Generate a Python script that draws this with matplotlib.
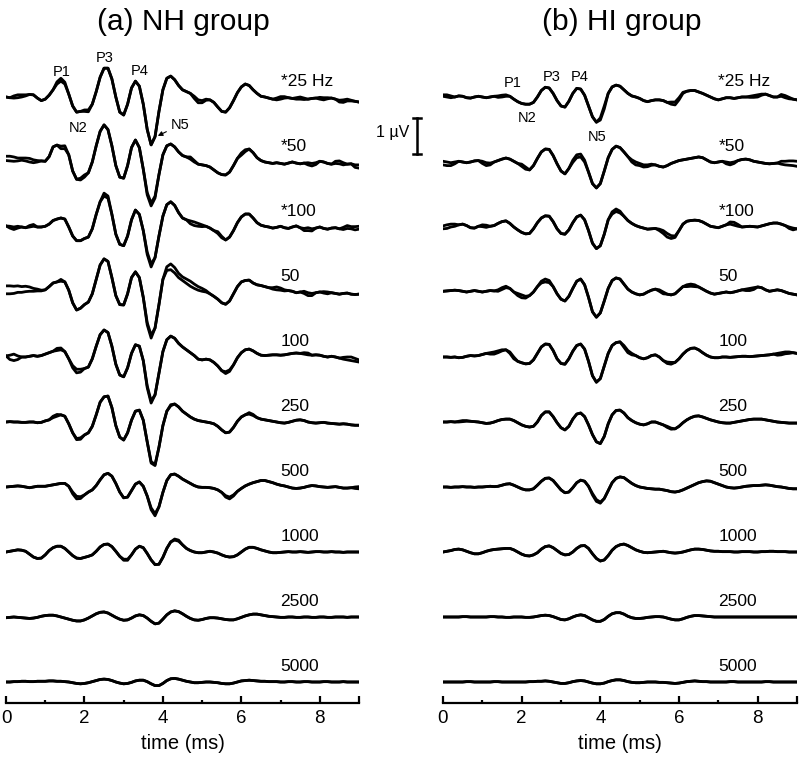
import numpy as np
import matplotlib
matplotlib.use('Agg')
import matplotlib.pyplot as plt

plt.rcParams['font.family'] = ['Liberation Sans', 'DejaVu Sans']

# one sample every 0.1 ms, 0..9 ms
times = np.round(np.arange(91) * 0.1, 1)

rate_labels = ['*25 Hz', '*50', '*100', '50', '100', '250', '500', '1000', '2500', '5000']

# averaged waveforms, in units of 0.01 uV
# ---- (a) NH group ----
nh_s25 = [0, -2, -3, -2, 0, 3, 7, 6, -3, -10,
          -6, 5, 20, 36, 44, 36, 8, -25, -42, -40,
          -36, -36, -20, 15, 55, 80, 80, 50, 0, -42,
          -50, -20, 25, 44, 30, -20, -90, -133, -110, -40,
          20, 52, 58, 48, 32, 20, 15, 10, 2, -8,
          -10, -6, -8, -15, -28, -40, -42, -30, -10, 12,
          28, 36, 32, 20, 10, 2, 0, -3, -6, -8,
          -6, -3, -2, -4, -2, 0, -3, -6, -4, -3,
          -6, -8, -5, -3, -6, -9, -8, -6, -9, -12,
          -14]
nh_s50 = [4, 3, 2, 3, 5, 3, 0, -2, 0, 3,
          2, 15, 42, 47, 44, 45, 20, -25, -48, -50,
          -42, -30, 0, 45, 85, 103, 90, 45, -10, -42,
          -45, -10, 40, 61, 40, -20, -85, -114, -95, -35,
          20, 45, 50, 42, 28, 18, 14, 8, 0, -6,
          -8, -10, -14, -22, -30, -35, -36, -28, -10, 10,
          25, 34, 36, 26, 12, 4, 0, -2, -4, -2,
          -4, -6, -3, 0, -3, -5, -3, -2, -4, -2,
          2, 0, -4, -6, -4, -5, -8, -6, -5, -8,
          -8]
nh_s100 = [3, 2, 0, 2, 0, -2, 0, 2, 0, 0,
           2, 8, 18, 22, 25, 22, 0, -25, -38, -38,
           -32, -28, -5, 35, 70, 86, 80, 35, -20, -48,
           -52, -25, 20, 47, 35, -10, -70, -103, -85, -25,
           30, 62, 70, 60, 40, 25, 20, 17, 14, 10,
           6, 2, -3, -10, -18, -30, -36, -28, -10, 12,
           28, 36, 36, 25, 12, 5, 2, 0, -3, -1,
           2, -2, -4, 0, 3, -2, -4, -2, -5, -3,
           0, -4, -6, -3, -2, -5, -7, -4, -5, -8,
           -6]
nh_50 = [17, 17, 16, 17, 15, 16, 14, 10, 8, 5,
         6, 15, 25, 28, 30, 28, 5, -30, -50, -45,
         -35, -28, -5, 35, 75, 92, 85, 40, -10, -35,
         -36, -5, 40, 56, 40, -15, -85, -120, -100, -35,
         35, 70, 78, 68, 52, 42, 36, 30, 22, 15,
         10, 4, -5, -12, -20, -30, -34, -25, -5, 15,
         28, 32, 33, 25, 20, 18, 15, 12, 8, 6,
         5, 3, 4, 2, -2, 0, 2, -2, -4, -2,
         0, -3, -5, -2, -4, -6, -4, -3, -6, -7,
         -6]
nh_100 = [3, 5, 8, 3, 0, 0, 2, 4, 2, 4,
          8, 12, 16, 18, 20, 15, -5, -30, -44, -42,
          -32, -28, -5, 30, 62, 75, 68, 30, -20, -50,
          -55, -30, 10, 34, 30, -10, -80, -122, -105, -45,
          15, 48, 58, 52, 38, 28, 20, 12, 4, -6,
          -8, -6, -8, -15, -25, -38, -46, -40, -22, -2,
          12, 20, 22, 17, 10, 5, 4, 5, 6, 6,
          5, 6, 8, 10, 11, 10, 8, 6, 5, 6,
          5, 2, 0, 2, 0, -3, -6, -8, -10, -12,
          -14]
nh_250 = [0, 1, 0, 0, -1, -1, 0, 0, -2, -1,
          3, 6, 12, 16, 20, 16, -5, -30, -46, -44,
          -36, -30, -12, 20, 55, 70, 72, 40, -10, -42,
          -50, -30, 5, 30, 33, 5, -55, -110, -118, -70,
          -10, 30, 48, 50, 42, 30, 22, 14, 8, 4,
          2, 0, -2, -5, -12, -22, -30, -28, -15, 2,
          14, 20, 22, 18, 12, 8, 6, 4, 2, 0,
          -2, -3, -1, 2, 5, 6, 4, 0, -2, -3,
          -2, -1, -3, -4, -5, -6, -5, -6, -8, -9,
          -9]
nh_500 = [0, 1, 2, 3, 2, 0, -2, 0, 2, 2,
          2, 4, 6, 8, 10, 10, 2, -14, -26, -27,
          -22, -14, -8, 4, 20, 34, 38, 30, 10, -14,
          -30, -28, -10, 8, 14, 2, -25, -58, -74, -55,
          -15, 18, 34, 36, 30, 22, 16, 10, 4, 0,
          -1, -1, -2, -4, -8, -15, -24, -28, -22, -12,
          -4, 3, 8, 12, 15, 18, 18, 15, 12, 8,
          5, 3, 0, -3, -4, -3, -1, 2, 4, 3,
          1, 0, -1, 0, 1, -1, -3, -3, -2, -4,
          -5]
nh_1000 = [0, 2, 4, 6, 5, 2, -6, -14, -18, -17,
           -8, 4, 12, 16, 16, 10, 0, -10, -17, -18,
           -15, -12, -8, 2, 14, 21, 22, 15, 2, -12,
           -20, -20, -8, 8, 16, 12, -4, -22, -35, -34,
           -15, 10, 28, 33, 30, 20, 10, 4, 0, -2,
           -2, 0, 2, 0, -3, -8, -12, -14, -13, -8,
           0, 8, 13, 13, 10, 6, 3, 0, -2, -2,
           -1, 0, 1, 0, 0, 1, 0, -1, 0, 1,
           1, 0, 0, 1, 0, 0, -1, 0, 0, 0,
           0]
nh_2500 = [-2, -1, 0, -1, -2, -3, -4, -3, -1, 2,
           4, 5, 5, 3, 0, -3, -6, -9, -11, -11,
           -8, -3, 3, 9, 13, 14, 11, 5, -1, -6,
           -9, -8, -3, 3, 6, 4, -3, -12, -19, -17,
           -6, 6, 14, 17, 15, 9, 2, -4, -8, -9,
           -7, -4, -2, -2, -3, -5, -7, -8, -8, -5,
           -1, 3, 6, 8, 8, 6, 4, 2, 1, 0,
           -1, -1, 0, 0, -1, -1, 0, 0, -1, -1,
           0, 0, -1, -1, 0, 0, 0, -1, 0, 0,
           0]
nh_5000 = [0, 0, 1, 1, 2, 2, 1, 1, 2, 2,
           2, 3, 3, 2, 2, 1, 0, -2, -4, -5,
           -4, -2, 1, 4, 7, 8, 7, 4, 0, -3,
           -5, -4, -1, 3, 5, 5, 1, -5, -10, -10,
           -4, 4, 9, 10, 8, 5, 2, 0, -2, -2,
           -1, 0, 0, -1, -2, -4, -5, -5, -3, 0,
           3, 4, 5, 4, 3, 2, 2, 1, 1, 1,
           0, 0, 1, 1, 0, 0, 1, 1, 0, 0,
           0, 1, 1, 0, 0, 0, 1, 0, 0, 0,
           0]

# ---- (b) HI group ----
hi_s25 = [2, 0, -2, 0, 3, 2, -2, -3, 0, 2,
          0, -2, 0, 2, 3, 5, 6, 2, -6, -13,
          -18, -20, -20, -15, 0, 18, 27, 25, 10, -10,
          -25, -28, -12, 10, 24, 22, 5, -25, -55, -70,
          -58, -25, 10, 28, 33, 30, 20, 10, 3, 0,
          -4, -10, -13, -10, -8, -8, -10, -15, -20, -22,
          -8, 10, 16, 18, 18, 14, 10, 5, 0, -5,
          -8, -5, -2, -2, -4, -2, 0, 0, 2, 4,
          6, 8, 8, 4, 0, 0, 2, -2, -5, -6,
          -8]
hi_s50 = [2, 0, -2, 0, 2, 0, -2, 0, 3, 4,
          2, -2, -3, 0, 4, 8, 11, 8, 2, -4,
          -12, -20, -22, -10, 10, 28, 36, 35, 18, -5,
          -25, -33, -18, 5, 20, 22, 5, -28, -60, -72,
          -60, -25, 12, 35, 44, 40, 28, 15, 6, 0,
          -4, -8, -8, -6, -8, -12, -14, -10, -4, 0,
          4, 6, 8, 10, 12, 14, 12, 6, 0, -2,
          0, 2, 0, -2, 0, 4, 7, 8, 6, 2,
          0, -2, -4, -5, -4, -3, -6, -8, -9, -10,
          -12]
hi_s100 = [3, 6, 8, 8, 6, 8, 4, -2, -3, 2,
           6, 5, 2, 4, 10, 15, 17, 10, 0, -8,
           -15, -19, -18, -5, 12, 25, 31, 30, 15, -5,
           -18, -20, -8, 12, 28, 33, 20, -10, -45, -60,
           -52, -20, 20, 42, 50, 44, 30, 18, 10, 4,
           0, -3, -6, -5, -4, -6, -10, -18, -24, -25,
           -10, 8, 16, 18, 19, 18, 14, 8, 2, 0,
           -2, 2, 6, 8, 5, 2, 0, 1, 2, 1,
           0, 3, 6, 9, 11, 11, 8, 4, 0, -3,
           -5]
hi_50 = [2, 3, 4, 5, 4, 2, 0, 2, 4, 2,
         0, 2, 4, 3, 6, 12, 16, 10, 0, -10,
         -16, -17, -10, 0, 15, 30, 36, 32, 15, -5,
         -20, -25, -12, 10, 30, 36, 20, -15, -55, -70,
         -58, -25, 10, 32, 39, 36, 22, 8, 0, -5,
         -8, -6, 0, 5, 8, 6, 0, -6, -8, -5,
         5, 15, 20, 22, 20, 14, 8, 2, -3, -6,
         -4, -2, 0, -2, 0, 3, 6, 8, 10, 12,
         14, 12, 6, 2, 4, 6, 4, 0, -4, -6,
         -8]
hi_100 = [0, 0, -1, 0, -2, -1, 2, 4, 3, 4,
          7, 10, 12, 14, 17, 20, 20, 10, -5, -12,
          -16, -19, -18, -8, 10, 28, 36, 35, 18, -5,
          -18, -20, -5, 16, 32, 36, 22, -12, -52, -70,
          -60, -25, 10, 32, 40, 42, 32, 18, 10, 4,
          -2, -5, -2, 4, 6, 0, -10, -18, -20, -15,
          -5, 8, 18, 24, 25, 20, 12, 5, 0, -2,
          -2, 0, 0, -1, 0, 1, 2, 2, 1, 2,
          3, 4, 5, 6, 8, 10, 12, 14, 14, 12,
          10]
hi_250 = [0, 0, 1, 0, 0, 1, 2, 2, 1, 0,
          -2, -4, -3, 0, 4, 7, 8, 8, 4, -2,
          -8, -12, -14, -12, 0, 18, 28, 28, 15, -2,
          -16, -22, -12, 8, 22, 25, 15, -8, -35, -55,
          -60, -40, -5, 20, 32, 33, 25, 12, 4, -2,
          -6, -8, -5, 0, 0, -4, -8, -12, -17, -19,
          -12, -2, 6, 12, 16, 17, 14, 10, 6, 3,
          0, -2, -3, -3, -1, 1, 3, 5, 7, 8,
          8, 8, 6, 4, 2, 0, -1, -2, -3, -3,
          -3]
hi_500 = [0, 0, -1, 0, 0, 1, 0, 0, -1, 0,
          0, 1, 2, 1, 2, 5, 8, 9, 5, 0,
          -5, -8, -8, -5, 5, 16, 24, 25, 18, 5,
          -8, -16, -14, -2, 12, 19, 16, 2, -18, -35,
          -42, -32, -10, 12, 24, 28, 26, 18, 10, 4,
          0, -2, -4, -5, -6, -6, -8, -10, -13, -14,
          -12, -8, -3, 2, 7, 12, 15, 17, 16, 12,
          8, 4, 0, -2, -3, -2, 0, 2, 3, 4,
          4, 5, 6, 5, 3, 1, 0, -2, -4, -5,
          -5]
hi_1000 = [0, 2, 4, 7, 8, 6, 2, -2, -5, -5,
           -2, 2, 5, 7, 8, 9, 10, 10, 6, 0,
           -6, -10, -11, -8, -2, 8, 15, 17, 12, 4,
           -4, -8, -7, 0, 10, 17, 18, 10, -5, -18,
           -25, -22, -10, 5, 15, 20, 22, 18, 12, 6,
           2, -1, -2, -1, 0, 1, 2, 0, -2, -3,
           -2, 0, 3, 6, 8, 8, 7, 5, 3, 2,
           2, 1, 1, 1, 0, 0, 1, 1, 1, 0,
           0, 1, 1, 2, 2, 1, 1, 1, 0, 0,
           0]
hi_2500 = [0, 0, 0, 0, 0, 1, 1, 0, 0, 0,
           0, 0, 1, 1, 0, 0, -1, -1, 0, 0,
           0, -1, -1, 0, 2, 4, 5, 4, 1, -3,
           -7, -8, -5, 0, 4, 6, 4, -2, -8, -12,
           -12, -7, 2, 9, 12, 12, 8, 2, -2, -4,
           -4, -3, -1, 0, 1, 1, 0, -3, -6, -8,
           -8, -5, -1, 2, 4, 4, 3, 2, 1, 0,
           0, 0, 0, 0, 0, 0, 0, 0, 0, 0,
           0, 0, 0, 0, 0, 0, 0, 0, 0, 0,
           0]
hi_5000 = [0, 0, 0, 0, 0, 0, 1, 1, 0, 0,
           0, 0, 0, 1, 1, 0, 0, 0, 0, 0,
           0, 0, 1, 1, 2, 2, 3, 2, 0, -2,
           -4, -4, -2, 1, 3, 4, 3, 0, -3, -5,
           -5, -3, 1, 4, 6, 6, 4, 1, -1, -2,
           -2, -1, 0, 0, 0, -1, -1, -2, -3, -4,
           -3, -1, 1, 2, 3, 2, 1, 1, 0, 0,
           0, 0, 0, 1, 1, 0, 0, 0, 0, 0,
           0, 0, 1, 1, 0, 0, 0, 0, 0, 0,
           0]

# second replicate: differences from the first (sample index -> 0.01 uV)
nh_dev = [
    {2: 6, 3: 8, 4: 6, 5: 3, 13: 6, 14: 8, 15: 5, 20: -4, 21: -5, 48: -6, 49: -8, 50: -6, 51: -3,
     69: 5, 70: 7, 71: 4, 74: -4, 75: -6, 76: -4, 80: 5, 81: 6, 82: 3, 85: -5, 86: -7, 87: -5, 88: -2},
    {0: 12, 1: 13, 2: 12, 3: 8, 4: 6, 5: 8, 6: 10, 7: 8, 8: 4, 14: -7, 15: -8, 19: 5, 20: 6,
     36: -6, 37: -8, 38: -5, 47: 6, 48: 4, 60: -6, 61: -5, 77: -6, 78: -7, 79: -5, 84: 6, 85: 8,
     86: 6, 89: -7, 90: -9},
    {1: -5, 2: -7, 3: -5, 6: 4, 7: 5, 25: 8, 26: 6, 36: -6, 37: -8, 47: -8, 48: -10, 49: -8,
     50: -5, 54: 5, 55: 4, 76: -6, 77: -8, 78: -6, 86: 6, 87: 8, 88: 6, 89: 9, 90: 8},
    {0: -22, 1: -22, 2: -20, 3: -18, 4: -16, 5: -15, 6: -12, 7: -8, 8: -5, 9: -2, 14: 5,
     36: -6, 37: -8, 41: -10, 42: -16, 43: -15, 44: -12, 45: -10, 46: -12, 47: -14, 48: -12,
     49: -10, 50: -8, 51: -4, 68: 4, 69: 8, 70: 6, 71: 3, 76: -6, 77: -8, 78: -6, 81: 4, 82: 5},
    {1: -12, 2: -18, 3: -10, 13: 6, 14: 5, 17: 6, 18: 10, 19: 8, 36: -5, 37: -6, 56: 5, 57: 4,
     76: 4, 77: 5, 86: 5, 87: 8, 88: 10, 89: 8, 90: 6},
    {12: 4, 13: 5, 18: -3, 19: -4, 37: -4, 38: -3, 42: -3, 62: 4, 63: 3},
    {17: -5, 18: -7, 19: -5, 37: -5, 38: -6, 56: -4, 57: -5, 58: -3, 89: 4, 90: 6},
    {30: -3, 31: -3, 43: 3, 44: 3},
    {},
    {},
]
hi_dev = [
    {0: 4, 1: 6, 2: 5, 14: -4, 15: -5, 16: -4, 40: -6, 41: -8, 58: 6, 59: 8, 60: 6, 61: 3,
     78: -3, 79: -5, 80: -6, 81: -3, 86: 5, 87: 6, 88: 4},
    {0: -10, 1: -10, 2: -8, 3: -5, 10: -6, 11: -8, 12: -5, 20: 6, 21: 6, 33: -6, 34: -8, 35: -8,
     36: -5, 48: -6, 49: -8, 50: -6, 51: -6, 52: -5, 53: -3, 72: -5, 73: -6, 74: -4, 86: 8,
     87: 10, 88: 12, 89: 13, 90: 14},
    {0: -8, 1: -10, 2: -8, 3: -6, 10: -5, 11: -6, 43: -6, 44: -7, 45: -5, 55: -4, 56: -8,
     57: -10, 58: -8, 59: -4, 73: 6, 74: 8, 75: 5, 88: -4, 89: -5},
    {14: -4, 15: -5, 16: -4, 19: 6, 20: 8, 21: 5, 25: -5, 26: -8, 27: -6, 55: -4, 56: -5,
     62: -5, 63: -6, 64: -5, 77: -4, 78: -6, 79: -5},
    {12: -4, 13: -6, 14: -5, 15: -3, 17: 4, 18: 5, 46: -5, 47: -6, 48: -4, 57: 4, 58: 5,
     85: -5, 86: -6, 87: -5, 88: -4},
    {4: 2, 5: 3, 6: 2, 57: -3, 58: -3},
    {38: -4, 39: -5, 40: -3},
    {},
    {},
    {},
]

nh_traces = [nh_s25, nh_s50, nh_s100, nh_50, nh_100, nh_250, nh_500, nh_1000, nh_2500, nh_5000]
hi_traces = [hi_s25, hi_s50, hi_s100, hi_50, hi_100, hi_250, hi_500, hi_1000, hi_2500, hi_5000]

# layout (pixels of the 800x759 figure)
PX_PER_UV = 36.0
ROW_GAP = 65 / PX_PER_UV
AX_TOP, AX_BOT, ROW0 = 40, 703, 97

fig = plt.figure(figsize=(8, 7.59), dpi=100)
ax_h = (AX_BOT - AX_TOP) / 759
ax_b = (759 - AX_BOT) / 759
ax_l = fig.add_axes([6 / 800, ax_b, 353 / 800, ax_h])
ax_r = fig.add_axes([443 / 800, ax_b, 354 / 800, ax_h])

for ax, traces, devs in [(ax_l, nh_traces, nh_dev), (ax_r, hi_traces, hi_dev)]:
    for i, (tr, dev) in enumerate(zip(traces, devs)):
        assert len(tr) == len(times)
        off = -i * ROW_GAP
        ya = off + np.array(tr) / 100.0
        yb = ya.copy()
        for k, d in dev.items():
            yb[k] += d / 100.0
        ax.plot(times, yb, color='black', lw=2.0, solid_joinstyle='round')
        ax.plot(times, ya, color='black', lw=2.0, solid_joinstyle='round')
        ax.text(7.0, off + 0.42, rate_labels[i], fontsize=12.5, ha='left', va='center')

    ax.set_xlim(0, 9)
    ax.set_ylim(-(AX_BOT - ROW0) / PX_PER_UV, (ROW0 - AX_TOP) / PX_PER_UV)
    for s in ['top', 'right', 'left']:
        ax.spines[s].set_visible(False)
    ax.spines['bottom'].set_linewidth(1.6)
    ax.set_yticks([])
    ax.set_xticks([0, 2, 4, 6, 8, 9], ['0', '2', '4', '6', '8', ''])
    ax.set_xticks([1, 3, 5, 7], minor=True)
    ax.tick_params(axis='x', which='major', direction='in', length=5, width=1.6,
                   labelsize=13.5, pad=5)
    ax.tick_params(axis='x', which='minor', direction='in', length=2.5, width=1.6)
    ax.set_xlabel('time (ms)', fontsize=14.5, labelpad=5)
    ax.patch.set_visible(False)

# wave labels
pk = dict(fontsize=10.5, ha='center', va='center')
ax_l.text(1.43, 0.69, 'P1', **pk)
ax_l.text(2.52, 1.08, 'P3', **pk)
ax_l.text(3.41, 0.72, 'P4', **pk)
ax_l.text(1.83, -0.86, 'N2', **pk)
ax_l.annotate('N5', xy=(3.87, -1.08), xytext=(4.43, -0.78), fontsize=10.5,
              ha='center', va='center',
              arrowprops=dict(arrowstyle='-|>', color='black', lw=0.8,
                              mutation_scale=7, shrinkA=1, shrinkB=0))
ax_r.text(1.78, 0.39, 'P1', **pk)
ax_r.text(2.77, 0.56, 'P3', **pk)
ax_r.text(3.48, 0.56, 'P4', **pk)
ax_r.text(2.14, -0.58, 'N2', **pk)
ax_r.text(3.92, -1.11, 'N5', **pk)

# 1 uV scale bar
bx = -0.66
bar_top, bar_bot = -0.58, -1.58
ax_r.plot([bx, bx], [bar_top, bar_bot], color='black', lw=1.8, clip_on=False)
for yy in (bar_top, bar_bot):
    ax_r.plot([bx - 0.11, bx + 0.11], [yy, yy], color='black', lw=1.8, clip_on=False)
ax_r.text(bx - 0.2, (bar_top + bar_bot) / 2 + 0.1, '1 µV', fontsize=11.5, ha='right', va='center')

fig.text(183 / 800, 1 - 22 / 759, '(a) NH group', fontsize=21.5, ha='center', va='center')
fig.text(622 / 800, 1 - 22 / 759, '(b) HI group', fontsize=21.5, ha='center', va='center')

fig.savefig('out.png', dpi=100)
